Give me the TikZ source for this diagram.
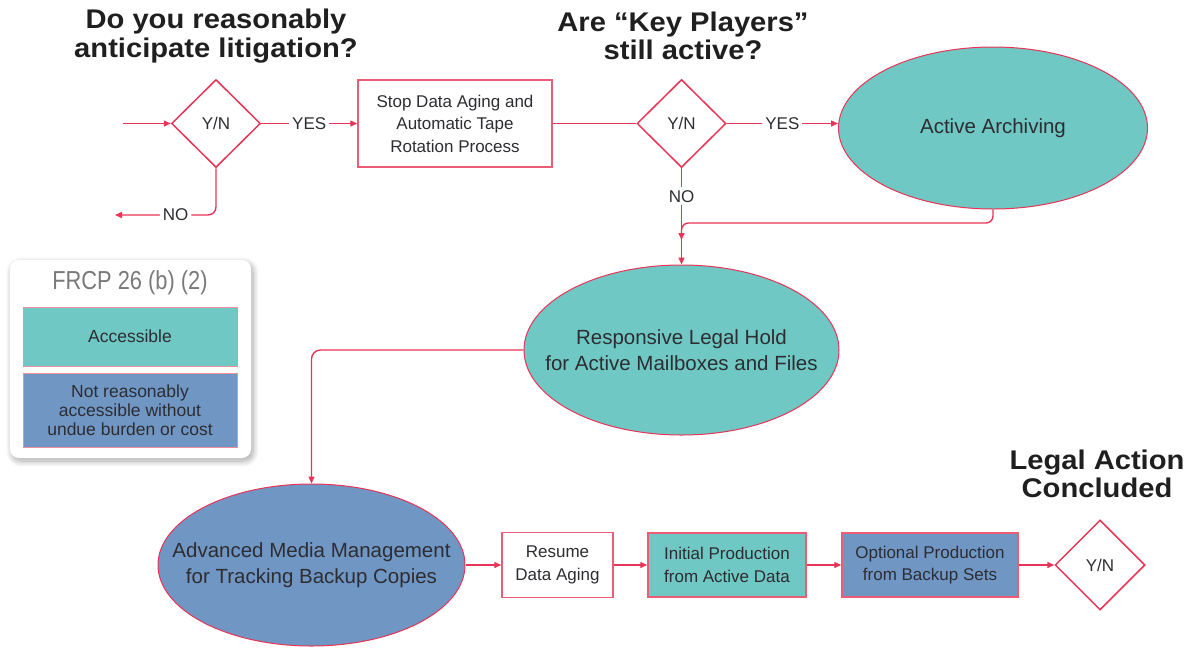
\documentclass[tikz,border=0pt]{standalone}
\usepackage{fontspec}
\setmainfont{Liberation Sans}
\newfontfamily\titlefont[FakeStretch=1.08]{Liberation Sans}
\newfontfamily\legendfont[FakeStretch=0.84]{Liberation Sans}
\usetikzlibrary{shapes.geometric, arrows.meta, shadows.blur}

\definecolor{flowred}{RGB}{232,52,86}
\definecolor{boxred}{RGB}{236,92,118}
\definecolor{accfill}{RGB}{111,200,196}
\definecolor{nraffill}{RGB}{112,150,196}
\definecolor{inktext}{RGB}{45,45,50}

\tikzset{
  flow/.style={draw=flowred, line width=1.4pt},
  arr/.style={flow, -{Triangle[length=7pt,width=6pt]}},
  decision/.style={diamond, draw=flowred, line width=1.5pt, fill=white,
    minimum width=89pt, minimum height=88pt, inner sep=0pt,
    font=\fontsize{17}{20}\selectfont, text=inktext},
  stepbox/.style={rectangle, draw=boxred, line width=1.5pt, inner sep=0pt,
    align=center, font=\fontsize{17}{22.5}\selectfont, text=inktext},
  % the ellipse is sized by its minimum width/height alone; its text is a centred label
  oval/.style={ellipse, draw=flowred, line width=1pt, inner sep=0pt},
  ovaltext/.style={align=center, inner sep=0pt,
    font=\fontsize{20.5}{26}\selectfont, text=inktext},
  flowlabel/.style={fill=white, inner sep=3pt,
    font=\fontsize{17}{20}\selectfont, text=inktext},
  heading/.style={align=center, font=\titlefont\bfseries\fontsize{27}{28.5}\selectfont,
    text=black!88},
  legbox/.style={rectangle, draw=boxred!70, line width=1pt, inner sep=0pt,
    align=center, font=\fontsize{17.5}{19}\selectfont, text=inktext,
    minimum width=214pt},
}

\begin{document}
\begin{tikzpicture}[x=1pt, y=-1pt]
\useasboundingbox (0,0) rectangle (1191,649);

% headings
\node[heading] (q1) at (216,36) {Do you reasonably\\anticipate litigation?};
\node[heading] (q2) at (683,36) {Are “Key Players”\\still active?};
\node[heading] (q3) at (1097,474) {Legal Action\\Concluded};

% legend panel
\node[fill=white, rounded corners=9pt, minimum width=241pt, minimum height=198pt,
      blur shadow={shadow blur steps=12, shadow xshift=2pt, shadow yshift=-3pt,
                   shadow blur radius=6pt, shadow opacity=35}]
      (legend) at (130.5,359) {};
\node[font=\legendfont\fontsize{26}{28}\selectfont, text=black!52] (legtitle) at (130,283) {FRCP 26 (b) (2)};
\node[legbox, fill=accfill, minimum height=59pt] (acc) at (130,336.5) {Accessible};
\node[legbox, fill=nraffill, minimum height=74pt] (nra) at (130,410) {Not reasonably\\accessible without\\undue burden or cost};

% first decision row
\coordinate (in) at (123,123.5);
\node[decision] (d1) at (216,123.5) {Y/N};
\coordinate (noend) at (115,215);
\node[stepbox, minimum width=194pt, minimum height=87pt] (stop) at (455,123.5)
  {Stop Data Aging and\\Automatic Tape\\Rotation Process};
\node[decision] (d2) at (681.5,123.5) {Y/N};
\node[oval, fill=accfill, minimum width=309pt, minimum height=162pt,
      label={[ovaltext]center:Active Archiving}] (arch) at (993,128) {};

% holds
\coordinate (turn) at (681.5,223);
\coordinate (merge) at (681.5,240);
\node[oval, fill=accfill, minimum width=315pt, minimum height=170pt,
      label={[ovaltext]center:{Responsive Legal Hold\\for Active Mailboxes and Files}}]
      (hold) at (681.5,350) {};
\node[oval, fill=nraffill, minimum width=307pt, minimum height=162pt,
      label={[ovaltext]center:{Advanced Media Management\\for Tracking Backup Copies}}]
      (media) at (311.5,565) {};

% production row
\node[stepbox, fill=white, minimum width=111pt, minimum height=65pt] (resume) at (557.5,565) {Resume\\Data Aging};
\node[stepbox, fill=accfill, minimum width=158pt, minimum height=64pt] (initial) at (727,565) {Initial Production\\from Active Data};
\node[stepbox, fill=nraffill, minimum width=176pt, minimum height=64pt] (optional) at (930,565) {Optional Production\\from Backup Sets};
\node[decision, minimum width=90pt, minimum height=90pt] (d3) at (1100,565) {Y/N};

% connectors
\draw[arr] (in) -- (d1.west);
\draw[arr] (d1.east) -- node[flowlabel] {YES} (stop.west);
\draw[arr, rounded corners=8pt] (d1.south) |- node[flowlabel, pos=0.7] {NO} (noend);
\draw[flow] (stop.east) -- (d2.west);
\draw[arr] (d2.east) -- node[flowlabel] {YES} (d2.east -| arch.west);
\draw[arr] (d2.south) -- node[flowlabel, pos=0.29] {NO} (hold.north);
\draw[arr, rounded corners=7pt] (arch.south) |- (turn) -- (merge);
\draw[arr, rounded corners=9pt] (hold.west) -| (media.north);
\draw[arr] (media.east) -- (resume.west);
\draw[arr] (resume.east) -- (initial.west);
\draw[arr] (initial.east) -- (optional.west);
\draw[arr] (optional.east) -- (d3.west);
\end{tikzpicture}
\end{document}
